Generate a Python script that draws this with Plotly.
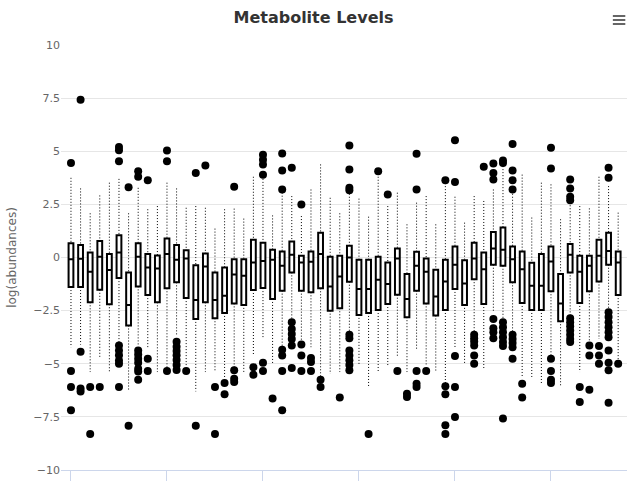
import plotly.graph_objects as go

# ---- data ----
categories = list(range(58))

low = [-4.22, -4.1, -5.39, -4.69, -5.39, -4.0, -6.3, -4.1, -4.27, -5.39,
       -5.16, -3.7, -5.16, -6.3, -5.39, -5.39, -5.7, -5.16, -5.39, -4.61,
       -3.83, -5.05, -4.2, -2.9, -3.9, -4.22, -5.6, -5.47, -5.39, -3.5,
       -5.08, -6.14, -5.39, -5.08, -4.69, -5.39, -4.3, -5.08, -5.39, -5.95,
       -4.22, -5.05, -3.5, -5.28, -2.55, -2.9, -3.5, -5.62, -5.62, -5.94,
       -4.6, -6.06, -2.7, -5.39, -3.98, -3.83, -2.42, -4.84]
q1 = [-1.39, -1.39, -2.11, -1.52, -2.2, -0.97, -3.2, -1.36, -1.77, -2.11,
      -1.45, -1.17, -1.91, -2.89, -2.11, -2.86, -2.61, -2.16, -2.23, -1.53,
      -1.44, -1.95, -1.56, -0.70, -1.56, -1.64, -1.45, -2.5, -2.39, -1.14,
      -2.7, -2.61, -2.47, -2.19, -1.75, -2.81, -1.56, -2.16, -2.73, -2.47,
      -1.48, -2.23, -1.02, -2.19, -0.34, -0.39, -1.17, -2.14, -2.47, -2.47,
      -1.59, -3.0, -0.70, -2.14, -1.59, -1.13, -0.34, -1.77]
median = [-0.08, -0.06, -0.67, 0.03, -0.59, 0.23, -2.23, 0.03, -0.47, -0.52,
          0.16, -0.11, -0.05, -2.0, -0.42, -2.0, -1.8, -0.8, -0.86, -0.23,
          -0.17, -0.11, -0.39, 0.125, -0.23, -0.2, 0.17, -1.36, -0.89, 0.0,
          -1.48, -1.48, -1.05, -1.25, -0.05, -1.95, -0.39, -0.67, -1.83, -1.13,
          -0.34, -1.22, -0.05, -0.55, 0.42, 0.36, -0.08, -0.55, -1.33, -1.33,
          -0.19, -2.16, 0.125, -0.67, -0.39, 0.08, 0.31, -0.23]
q3 = [0.67, 0.59, 0.23, 0.78, 0.17, 1.05, -0.70, 0.67, 0.17, 0.09,
      0.89, 0.59, 0.34, -0.36, 0.19, -0.70, -0.47, -0.08, -0.08, 0.83,
      0.70, 0.36, 0.28, 0.75, 0.08, 0.28, 1.17, 0.03, 0.08, 0.55,
      -0.11, -0.11, 0.03, -0.23, 0.42, -0.78, 0.27, -0.05, -0.58, -0.11,
      0.52, -0.13, 0.70, 0.23, 1.2, 1.41, 0.52, 0.28, -0.25, 0.17,
      0.52, -0.78, 0.64, 0.08, 0.08, 0.83, 1.17, 0.28]
high = [3.75, 3.25, 2.08, 2.92, 3.52, 3.7, 2.08, 3.28, 2.27, 2.42,
        3.52, 3.25, 2.34, 2.42, 2.34, 1.36, 2.27, 2.3, 1.83, 3.8,
        3.7, 1.98, 3.05, 2.89, 1.95, 3.2, 4.38, 2.81, 2.08, 3.0,
        2.77, 1.92, 3.8, 2.42, 3.05, 1.56, 2.58, 2.89, 1.56, 3.5,
        2.86, 1.64, 2.89, 2.66, 3.2, 4.3, 3.0, 3.9, 1.88, 3.52,
        3.44, 1.8, 2.6, 2.42, 2.31, 3.8, 3.36, 2.11]
outliers = [
    [4.45, -5.34, -6.09, -7.19],
    [7.42, -4.44, -6.17, -6.3],
    [-6.09, -8.31],
    [-6.09],
    [],
    [5.2, 5.05, 4.53, -4.14, -4.38, -4.6, -4.85, -5.0, -6.09],
    [3.31, -7.92],
    [4.06, 3.8, -4.38, -4.56, -4.77, -4.95, -5.23, -5.36, -5.75],
    [3.63, -4.77, -5.34],
    [],
    [5.03, 4.53, -5.34],
    [-3.96, -4.2, -4.4, -4.6, -4.82, -5.06, -5.29],
    [-5.34],
    [3.98, -7.92],
    [4.33],
    [-6.09, -8.31],
    [-5.9, -6.44],
    [3.33, -5.31, -5.7, -5.86],
    [],
    [-5.16, -5.52],
    [4.84, 4.6, 4.38, 3.9, -4.95, -5.34],
    [-6.64],
    [4.89, 4.09, 3.2, -4.34, -4.61, -5.34, -7.19],
    [4.22, -3.05, -3.36, -3.6, -3.83, -4.14, -5.2],
    [2.5, -4.09, -4.61, -5.34],
    [-4.73, -4.92, -5.34],
    [-5.75, -6.09],
    [],
    [-6.59],
    [5.27, 4.14, 3.28, 3.16, -3.63, -3.8, -4.38, -4.61, -4.84, -5.06, -5.31],
    [],
    [-8.31],
    [4.06],
    [2.97],
    [-5.34],
    [-6.41, -6.56],
    [4.88, 3.2, -5.34, -5.94, -6.09],
    [-5.34],
    [],
    [3.63, -6.06, -6.44, -7.89, -8.31],
    [5.52, 3.55, -4.64, -6.09, -7.5],
    [],
    [-3.64, -3.8, -3.95, -4.14, -4.61, -5.0],
    [4.27],
    [4.42, 3.98, 3.67, -2.89, -3.33, -3.52, -3.8],
    [4.56, 4.45, -3.05, -3.28, -3.52, -3.75, -3.98, -4.17, -7.58],
    [5.34, 4.09, 3.63, 3.2, -3.64, -3.83, -4.02, -4.22, -4.77],
    [-5.94, -6.59],
    [],
    [],
    [5.16, 4.19, -4.77, -5.34, -5.75, -5.9],
    [],
    [3.67, 3.25, 2.86, 2.7, -2.86, -3.05, -3.23, -3.44, -3.63, -3.83, -3.98],
    [-6.09, -6.8],
    [-4.14, -4.61, -6.22],
    [-4.17, -4.61, -5.0],
    [4.22, 3.75, -2.58, -2.8, -3.05, -3.28, -3.52, -3.75, -4.38, -4.95, -5.31, -6.84],
    [-5.0],
]
y_ticks = [-10, -7.5, -5, -2.5, 0, 2.5, 5, 7.5, 10]
x_ticks = [0, 10, 20, 30, 40, 50]

# ---- build traces ----
wx, wy = [], []
for c, lo, a, b, hi in zip(categories, low, q1, q3, high):
    wx += [c, c, None, c, c, None]
    wy += [hi, b, None, a, lo, None]

ox, oy = [], []
for c, pts in zip(categories, outliers):
    for p in pts:
        ox.append(c)
        oy.append(p)

fig = go.Figure()
fig.add_trace(go.Scatter(
    x=wx, y=wy, mode="lines",
    line=dict(color="#000000", width=1, dash="1px,2px"),
    hoverinfo="skip", showlegend=False))
fig.add_trace(go.Box(
    x=categories, q1=q1, median=median, q3=q3,
    lowerfence=q1, upperfence=q3,
    width=0.5, whiskerwidth=0,
    line=dict(color="#000000", width=2),
    fillcolor="#ffffff", boxpoints=False,
    showlegend=False, hoverinfo="skip"))
fig.add_trace(go.Scatter(
    x=ox, y=oy, mode="markers",
    marker=dict(color="#000000", size=8, line=dict(width=0)),
    hoverinfo="skip", showlegend=False))

# context-menu (hamburger) icon, as in the reference's top-right corner
menu_shapes = [dict(type="line", xref="paper", yref="paper",
                    x0=0.975, x1=0.997, y0=yy, y1=yy,
                    line=dict(color="#666666", width=2))
               for yy in (1.0682, 1.0588, 1.0494)]

fig.update_layout(
    width=627, height=481,
    margin=dict(l=61, r=0, t=45, b=11),
    paper_bgcolor="#ffffff", plot_bgcolor="#ffffff",
    font=dict(family="DejaVu Sans", color="#666666", size=11),
    title=dict(text="<b>Metabolite Levels</b>", x=0.5, xanchor="center",
               y=1 - 17 / 481, yanchor="middle",
               font=dict(family="DejaVu Sans", size=16, color="#333333")),
    showlegend=False,
    hovermode=False,
    xaxis=dict(range=[-1.04, 57.92], showgrid=False, zeroline=False,
               showline=True, linecolor="#ccd6eb", linewidth=1,
               ticks="outside", ticklen=10, tickcolor="#ccd6eb", tickwidth=1,
               tickvals=x_ticks, showticklabels=False),
    yaxis=dict(range=[-10, 10], tickvals=y_ticks,
               ticktext=[("\u2212" if v < 0 else "") + ("%g" % abs(v)) for v in y_ticks],
               showgrid=True, gridcolor="#e6e6e6", gridwidth=1,
               zeroline=False, showline=False, ticks="",
               tickfont=dict(size=11, color="#666666"),
               title=dict(text="log(abundances)", standoff=14,
                          font=dict(size=12, color="#666666"))),
    shapes=menu_shapes,
)

fig.write_html("out.html", config={"displayModeBar": False},
               post_script="document.body.style.margin='0';document.body.style.padding='0';")
